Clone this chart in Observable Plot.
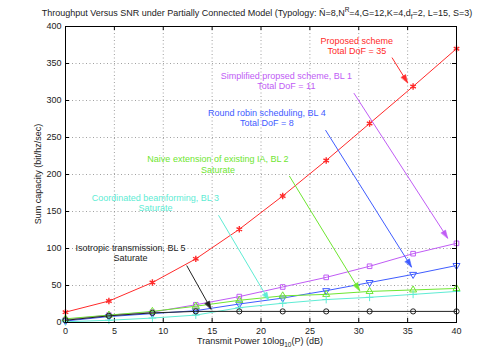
<!DOCTYPE html>
<html><head><meta charset="utf-8">
<script src="https://cdn.jsdelivr.net/npm/d3@7"></script>
<script src="https://cdn.jsdelivr.net/npm/@observablehq/plot@0.6"></script>
<style>
body{margin:0;background:#fff}
svg{font-family:"Liberation Sans",Arial,Helvetica,sans-serif}
</style>
</head><body><div id="chart"></div>
<script>
// ---- data ----
const snr = [0, 4.44, 8.89, 13.33, 17.78, 22.22, 26.67, 31.11, 35.56, 40];
const proposed = [14, 29, 54, 86, 126, 171, 219, 269, 319, 370];
const bl1 = [4, 10, 14, 24, 35, 48, 61, 76, 93, 107];
const bl4 = [2, 8, 12, 16, 25, 33, 43, 54, 65, 77];
const bl2 = [5, 10, 15, 22, 30, 36, 38, 42, 44, 46];
const bl3 = [1, 3, 6, 10, 20, 26, 31, 34, 38, 42];
const bl5 = [3, 9, 13, 15, 15, 15, 15, 15, 15, 15];
const xTicks = [0, 5, 10, 15, 20, 25, 30, 35, 40];
const yTicks = [0, 50, 100, 150, 200, 250, 300, 350, 400];

const annoText = [
  "Proposed scheme\nTotal DoF = 35",
  "Simplified propsed scheme, BL 1\nTotal DoF = 11",
  "Round robin scheduling, BL 4\nTotal DoF = 8",
  "Naive extension of existing IA, BL 2\nSaturate",
  "Coordinated beamforming, BL 3\nSaturate",
  "Isotropic transmission, BL 5\nSaturate"
];
const annoX = [29.8, 22.6, 20.6, 15.6, 9.2, 6.65];
const annoY = [374, 327, 277, 214, 162, 94];
const arrowX1 = [33.4, 29.5, 26.6, 22.9, 15.65, 12.4];
const arrowY1 = [358, 310, 260, 198, 145, 77];
const arrowX2 = [35.0, 39.1, 35.4, 30.1, 20.8, 14.9];
const arrowY2 = [324, 114, 75, 43, 30, 18];

// ---- styles ----
const seriesColors = ["#ff2a2a", "#c05cf5", "#3f5cff", "#6ee630", "#5eecd4", "#222222"];
const seriesSymbols = ["asterisk", "square", "triangle", "triangle", "plus", "circle"];
const seriesRotate = [0, 0, 180, 0, 0, 0];
const seriesValues = [proposed, bl1, bl4, bl2, bl3, bl5];

const W = 503, H = 362, mL = 65, mR = 47, mT = 26, mB = 40;
const kx = (W - mL - mR) / 40, ky = (H - mT - mB) / 400; // px per unit
const tickX = 4 / kx;
const tickY = 4 / ky;

const rows = [];
seriesValues.forEach((vals, s) => vals.forEach((v, i) => rows.push({s, x: snr[i], y: v})));
const annos = annoText.map((t, i) => {
  const dxp = (arrowX2[i] - arrowX1[i]) * kx;
  const dyp = -(arrowY2[i] - arrowY1[i]) * ky;
  return {t, x: annoX[i], y: annoY[i], x1: arrowX1[i], y1: arrowY1[i], x2: arrowX2[i], y2: arrowY2[i],
    c: seriesColors[i], rot: Math.atan2(dxp, -dyp) * 180 / Math.PI};
});

const headShape = {
  draw(context, l) {
    context.moveTo(0, -l);
    context.lineTo(-2.6, 0);
    context.lineTo(2.6, 0);
    context.closePath();
  }
};

const marks = [
  Plot.gridX(xTicks.slice(1, -1), {stroke: "#888", strokeOpacity: 1, strokeWidth: 0.8, strokeDasharray: "1,2.5"}),
  Plot.gridY(yTicks.slice(1, -1), {stroke: "#888", strokeOpacity: 1, strokeWidth: 0.8, strokeDasharray: "1,2.5"}),
  Plot.ruleX(xTicks, {y1: 0, y2: tickY, stroke: "#000"}),
  Plot.ruleX(xTicks, {y1: 400, y2: 400 - tickY, stroke: "#000"}),
  Plot.ruleY(yTicks, {x1: 0, x2: tickX, stroke: "#000"}),
  Plot.ruleY(yTicks, {x1: 40, x2: 40 - tickX, stroke: "#000"}),
  Plot.axisX(xTicks, {tickSize: 0, tickPadding: 5, label: null, fontSize: 9, fill: "#222"}),
  Plot.axisY(yTicks, {tickSize: 0, tickPadding: 4, label: null, fontSize: 9, fill: "#222"})
];
seriesValues.forEach((vals, s) => {
  const d = rows.filter(r => r.s === s);
  marks.push(Plot.line(d, {x: "x", y: "y", stroke: seriesColors[s], strokeWidth: 1}));
  marks.push(Plot.dot(d, {x: "x", y: "y", stroke: seriesColors[s], fill: "none", symbol: seriesSymbols[s], r: s === 0 ? 3 : 2.6, rotate: seriesRotate[s], strokeWidth: s === 0 ? 1.4 : 1}));
});
marks.push(Plot.link(annos, {x1: "x1", y1: "y1", x2: "x2", y2: "y2", stroke: "c", strokeWidth: 1}));
marks.push(Plot.vector(annos, {x: "x2", y: "y2", rotate: "rot", length: 8, anchor: "end", shape: headShape, fill: "c", stroke: "c", strokeWidth: 0.5}));
marks.push(Plot.text(annos, {x: "x", y: "y", text: "t", fill: "c", fontSize: 9, lineHeight: 1.15}));
marks.push(Plot.frame({stroke: "#000", strokeWidth: 1}));

const plot = Plot.plot({
  width: W, height: H,
  marginLeft: mL, marginRight: mR, marginTop: mT, marginBottom: mB,
  x: {domain: [0, 40], axis: null},
  y: {domain: [0, 400], axis: null},
  color: {type: "identity"},
  style: {background: "white", fontFamily: "'Liberation Sans', Arial, sans-serif", fontSize: "9px"},
  marks
});
document.getElementById("chart").appendChild(plot);

// ---- title and axis labels with sub/superscripts ----
const svg = d3.select(plot);
const title = svg.append("text").attr("x", 257).attr("y", 16).attr("text-anchor", "middle")
  .attr("font-size", 9).attr("fill", "#222");
title.append("tspan").text("Throughput Versus SNR under Partially Connected Model (Typology: \u00D1=8,N");
title.append("tspan").attr("font-size", 6.5).attr("dy", -4).text("R");
title.append("tspan").attr("dy", 4).text("=4,G=12,K=4,d");
title.append("tspan").attr("font-size", 6.5).attr("dy", 2.5).text("f");
title.append("tspan").attr("dy", -2.5).text("=2, L=15, S=3)");

const xl = svg.append("text").attr("x", 260).attr("y", 344).attr("text-anchor", "middle")
  .attr("font-size", 9).attr("fill", "#222");
xl.append("tspan").text("Transmit Power 10log");
xl.append("tspan").attr("font-size", 6.5).attr("dy", 2.5).text("10");
xl.append("tspan").attr("dy", -2.5).text("(P) (dB)");

svg.append("text").attr("transform", "translate(41,174) rotate(-90)").attr("text-anchor", "middle")
  .attr("font-size", 9).attr("fill", "#222").text("Sum capacity (bit/hz/sec)");
</script>
</body></html>
